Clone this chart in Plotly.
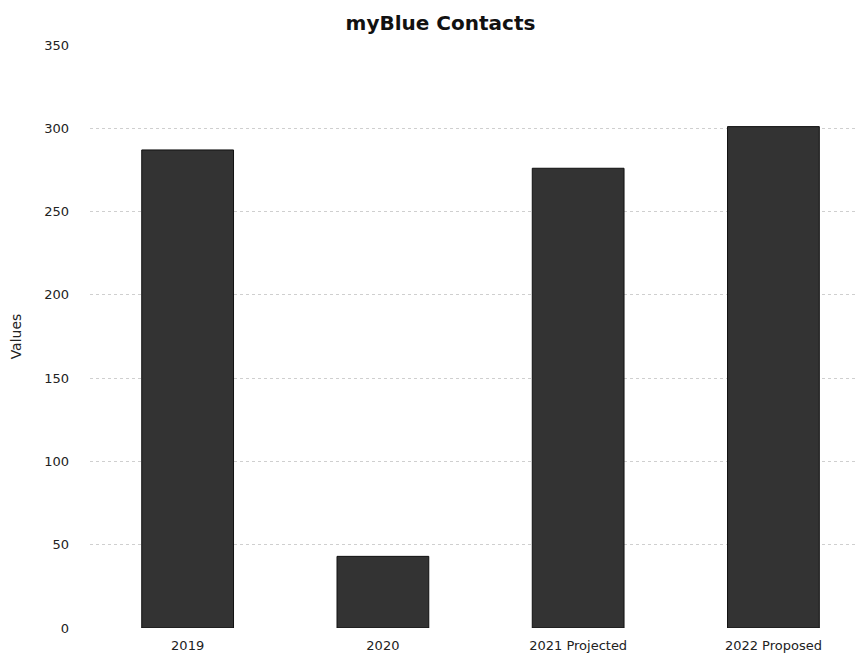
import plotly.graph_objects as go

categories = ["2019", "2020", "2021 Projected", "2022 Proposed"]
values = [287, 43, 276, 301]
y_ticks = [0, 50, 100, 150, 200, 250, 300, 350]

FONT = "DejaVu Sans, sans-serif"

fig = go.Figure()
fig.add_trace(go.Bar(
    x=categories, y=values,
    marker=dict(color="#333333", line=dict(color="#111111", width=1)),
))

fig.update_layout(
    width=865, height=661,
    margin=dict(l=82, r=0, t=37, b=41),
    paper_bgcolor="white", plot_bgcolor="white",
    font=dict(family=FONT, color="#222222", size=13),
    title=dict(text="<b>myBlue Contacts</b>", x=0.5, xanchor="center", y=0.978, yanchor="middle",
               font=dict(size=20, color="#111111", family=FONT)),
    bargap=0.53,
    showlegend=False,
)
fig.update_xaxes(
    range=[-0.5, 3.51], showgrid=False, showline=False, ticks="",
    tickfont=dict(size=13, color="#222222", family=FONT), ticklabelstandoff=8,
)
fig.update_yaxes(
    range=[0, 350], tickvals=y_ticks, showgrid=True,
    gridcolor="#cfcfcf", griddash="dot", gridwidth=1,
    zeroline=False,
    title=dict(text="Values", font=dict(size=14, color="#222222", family=FONT), standoff=24),
    tickfont=dict(size=13, color="#222222", family=FONT), ticks="", ticklabelstandoff=20,
)

fig.write_html("out.html")
